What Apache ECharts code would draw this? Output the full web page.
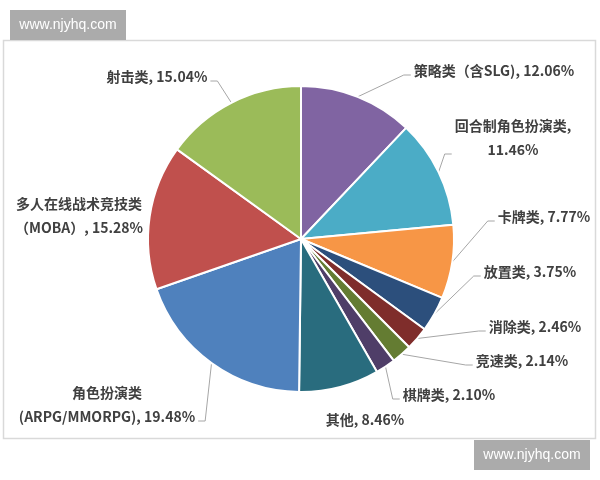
<!DOCTYPE html>
<html>
<head>
<meta charset="utf-8">
<title>游戏类型占比</title>
<script src="https://cdn.jsdelivr.net/npm/echarts@6/dist/echarts.min.js"></script>
<style>
html, body { margin: 0; padding: 0; background: #fff; }
#main { width: 600px; height: 480px; }
</style>
</head>
<body>
<div id="main"></div>
<script>
// 从12点方向顺时针
var categories = ['策略类（含SLG)', '回合制角色扮演类', '卡牌类', '放置类', '消除类', '竞速类', '棋牌类', '其他', '角色扮演类\n(ARPG/MMORPG)', '多人在线战术竞技类\n（MOBA）', '射击类'];
var shares = [12.06, 11.46, 7.77, 3.75, 2.46, 2.14, 2.10, 8.46, 19.48, 15.28, 15.04];

var colors = ['#8064a2', '#4bacc6', '#f79646', '#2c4f7c', '#7f2d2b', '#647c32', '#4f3e68', '#296c7e', '#4f81bd', '#c0504d', '#9bbb59'];
// 标签中心位置（仿Excel手动摆放）
var labelSpots = [[494, 71], [513, 138], [544, 217], [530, 272], [535, 327], [522, 361], [449, 395], [365, 420], [107, 405], [79, 216], [157, 77]];
var wrapAfterComma = ['回合制角色扮演类'];
var LINE_H = 24;

var chart = echarts.init(document.getElementById('main'));

function dist(a, b) {
	return Math.sqrt((a[0] - b[0]) * (a[0] - b[0]) + (a[1] - b[1]) * (a[1] - b[1]));
}

chart.setOption({
	animation: false,
	color: colors,
	graphic: [
		{
			type: 'rect', z: -10, silent: true,
			shape: { x: 3.5, y: 40.5, width: 592, height: 398 },
			style: { fill: 'none', stroke: '#d9d9d9', lineWidth: 1.5 }
		},
		{
			type: 'group', z: 100, silent: true, left: 10, top: 10,
			children: [
				{ type: 'rect', shape: { x: 0, y: 0, width: 116, height: 30 }, style: { fill: '#ababab' } },
				{ type: 'text', x: 58, y: 15, style: { text: 'www.njyhq.com', fill: '#fff', font: '14px "Liberation Sans", Arial, sans-serif', align: 'center', verticalAlign: 'middle' } }
			]
		},
		{
			type: 'group', z: 100, silent: true, left: 474, top: 440,
			children: [
				{ type: 'rect', shape: { x: 0, y: 0, width: 116, height: 30 }, style: { fill: '#ababab' } },
				{ type: 'text', x: 58, y: 15, style: { text: 'www.njyhq.com', fill: '#fff', font: '14px "Liberation Sans", Arial, sans-serif', align: 'center', verticalAlign: 'middle' } }
			]
		}
	],
	series: [{
		type: 'pie',
		center: [301, 239],
		radius: 153,
		startAngle: 90,
		clockwise: true,
		avoidLabelOverlap: false,
		emphasis: { disabled: true },
		itemStyle: { borderColor: '#fff', borderWidth: 2 },
		label: {
			show: true,
			position: 'outside',
			color: '#404040',
			fontFamily: '"Noto Sans CJK SC", sans-serif',
			fontWeight: 'bold',
			fontSize: 14,
			lineHeight: LINE_H,
			formatter: function (p) {
				var sep = wrapAfterComma.indexOf(p.name) >= 0 ? ',\n' : ', ';
				return p.name + sep + p.value.toFixed(2) + '%';
			}
		},
		labelLine: {
			show: true,
			length: 15,
			length2: 10,
			lineStyle: { color: '#a6a6a6', width: 1 }
		},
		labelLayout: function (p) {
			var spot = labelSpots[p.dataIndex];
			var w = p.labelRect.width, h = p.labelRect.height;
			var L = spot[0] - w / 2, R = spot[0] + w / 2, T = spot[1] - h / 2, B = spot[1] + h / 2;
			var s = p.labelLinePoints[0];
			var yEnd = B - LINE_H / 2 + 4;
			var end, pts;
			if (s[0] >= L && s[0] <= R) {
				end = [s[0], T - 3];
				pts = [s, end, end];
			} else if (s[0] < L) {
				end = [L - 3, yEnd];
				pts = [s, [end[0] - 7, yEnd], end];
			} else {
				end = [R + 3, yEnd];
				pts = [s, [end[0] + 7, yEnd], end];
			}
			if (dist(s, end) < 20) pts = [s, s, s];
			return {
				x: spot[0],
				y: spot[1],
				align: 'center',
				verticalAlign: 'middle',
				labelLinePoints: pts
			};
		},
		data: categories.map(function (c, i) {
			return { name: c, value: shares[i] };
		})
	}]
});
</script>
</body>
</html>
